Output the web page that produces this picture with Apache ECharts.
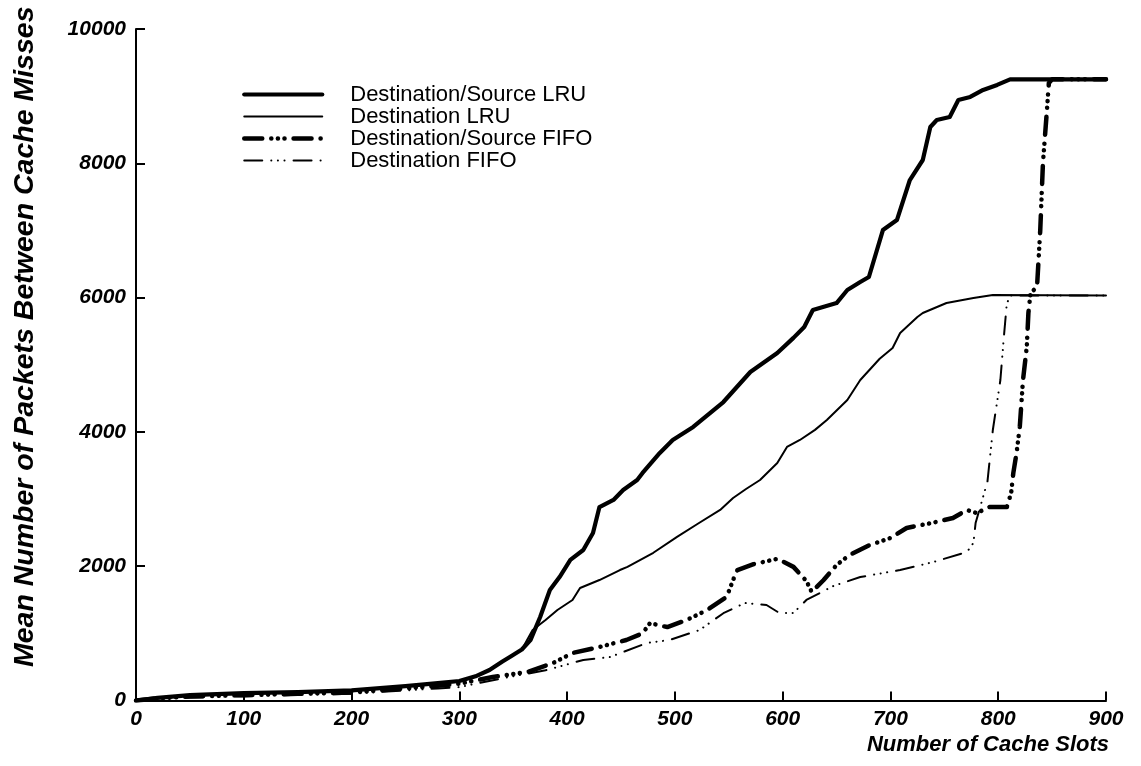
<!DOCTYPE html>
<html>
<head>
<meta charset="utf-8">
<script src="https://cdn.jsdelivr.net/npm/echarts@6/dist/echarts.min.js"></script>
<style>
  html, body { margin: 0; padding: 0; background: #fff; }
  #chart { width: 1141px; height: 766px; }
</style>
</head>
<body>
<div id="chart"></div>
<script>
// Mean packets between cache misses versus cache size, four replacement policies.

const xTicks = [0, 100, 200, 300, 400, 500, 600, 700, 800, 900];
const yTicks = [0, 2000, 4000, 6000, 8000, 10000];

const seriesNames = [
  'Destination/Source LRU',
  'Destination LRU',
  'Destination/Source FIFO',
  'Destination FIFO'
];

// Destination/Source LRU
const dsLruSlots = [0, 20, 50, 100, 150, 200, 250, 280, 300, 315, 328, 340, 348, 358, 366, 375, 384, 393, 403, 415, 424, 430, 443, 452, 465, 470, 486, 498, 517, 545, 570, 595, 610, 620, 628, 650, 660, 672, 680, 693, 706, 718, 730, 737, 743, 755, 763, 774, 786, 799, 811, 900];
const dsLruMean  = [0, 40, 80, 110, 125, 150, 215, 260, 290, 360, 454, 580, 660, 760, 900, 1244, 1645, 1839, 2093, 2241, 2494, 2880, 2986, 3135, 3284, 3388, 3686, 3880, 4074, 4445, 4892, 5175, 5400, 5562, 5815, 5919, 6113, 6232, 6307, 7006, 7155, 7751, 8049, 8541, 8645, 8690, 8943, 8988, 9092, 9167, 9250, 9250];

// Destination LRU
const dLruSlots = [0, 20, 50, 100, 150, 200, 250, 280, 300, 315, 328, 340, 348, 358, 368, 380, 391, 405, 412, 430, 449, 456, 480, 502, 522, 542, 554, 566, 579, 595, 604, 616, 630, 641, 660, 672, 690, 702, 709, 715, 725, 730, 752, 777, 795, 900];
const dLruMean  = [0, 40, 80, 110, 125, 150, 215, 260, 290, 360, 454, 580, 660, 760, 1050, 1200, 1348, 1497, 1675, 1794, 1943, 1990, 2200, 2437, 2640, 2838, 3016, 3150, 3284, 3536, 3776, 3880, 4030, 4177, 4475, 4773, 5090, 5250, 5473, 5562, 5711, 5771, 5920, 5994, 6039, 6030];

// Destination/Source FIFO
const dsFifoSlots = [0, 20, 50, 100, 150, 200, 250, 280, 300, 331, 363, 387, 405, 430, 455, 470, 477, 485, 493, 511, 530, 548, 554, 558, 573, 595, 610, 622, 627, 638, 650, 662, 681, 700, 715, 740, 758, 771, 780, 792, 808, 812, 814, 817, 820, 823, 826.5, 828, 830, 836, 839, 841.5, 845, 847, 850, 900];
const dsFifoMean  = [0, 30, 60, 80, 100, 120, 180, 220, 250, 350, 424, 558, 707, 797, 901, 1000, 1154, 1120, 1094, 1199, 1348, 1541, 1794, 1943, 2030, 2110, 1990, 1780, 1615, 1794, 2018, 2167, 2316, 2420, 2569, 2650, 2718, 2837, 2792, 2882, 2882, 3090, 3388, 3686, 4074, 4773, 5265, 5771, 6068, 6158, 7006, 8004, 8749, 9196, 9250, 9250];

// Destination FIFO
const dFifoSlots = [0, 20, 50, 100, 150, 200, 250, 280, 300, 340, 380, 415, 440, 474, 495, 523, 545, 565, 585, 597, 610, 622, 647, 672, 709, 740, 771, 777, 779, 790, 795, 802, 805, 808, 812, 900];
const dFifoMean  = [0, 25, 45, 65, 85, 100, 150, 180, 200, 330, 450, 603, 648, 856, 901, 1050, 1300, 1452, 1422, 1303, 1303, 1497, 1705, 1839, 1943, 2063, 2212, 2346, 2643, 3260, 4028, 4773, 5369, 5920, 6030, 6030];

const pairs = (xs, ys) => xs.map((x, i) => [x, ys[i]]);

const FONT = "'Liberation Sans', Arial, Helvetica, sans-serif";
const DASH_DOT_DOT = [18, 9, 0.1, 6.5, 0.1, 6.5, 0.1, 9];

// line width and dash for each policy, shared by plot and legend
const styles = [
  { width: 4.2, type: 'solid' },
  { width: 2, type: 'solid' },
  { width: 4.5, type: DASH_DOT_DOT },
  { width: 2, type: DASH_DOT_DOT }
];

const chart = echarts.init(document.getElementById('chart'), null, { renderer: 'canvas' });

const lineSeries = (i, data) => ({
  name: seriesNames[i],
  type: 'line',
  data,
  symbol: 'none',
  smooth: false,
  lineStyle: { color: '#000', width: styles[i].width, type: styles[i].type, cap: 'round', join: 'round' },
  itemStyle: { color: '#000' }
});

const plain = v => String(v);

chart.setOption({
  animation: false,
  backgroundColor: '#fff',
  grid: { left: 136, right: 35, top: 29, bottom: 65.5, containLabel: false, outerBoundsMode: 'none' },
  legend: {
    orient: 'vertical',
    left: 242,
    top: 83.5,
    padding: 0,
    itemWidth: 78,
    itemHeight: 14,
    itemGap: 0,
    selectedMode: false,
    itemStyle: { opacity: 0 },
    data: seriesNames.map((name, i) => ({
      name,
      lineStyle: { color: '#000', width: styles[i].width, type: styles[i].type, cap: 'round' }
    })),
    textStyle: {
      color: '#000',
      fontFamily: FONT,
      fontSize: 22,
      lineHeight: 22,
      padding: [0, 0, 0, 23]
    }
  },
  xAxis: {
    type: 'value',
    min: xTicks[0],
    max: xTicks[xTicks.length - 1],
    interval: 100,
    name: 'Number of Cache Slots',
    nameLocation: 'middle',
    nameGap: 18,
    nameTextStyle: {
      color: '#000', fontFamily: FONT, fontSize: 22, fontWeight: 'bold', fontStyle: 'italic',
      padding: [0, 0, 0, 734]
    },
    axisLine: { lineStyle: { color: '#000', width: 2 } },
    axisTick: { inside: true, length: 9, lineStyle: { color: '#000', width: 2 } },
    axisLabel: {
      color: '#000', fontFamily: FONT, fontSize: 21, fontWeight: 'bold', fontStyle: 'italic', margin: 8,
      formatter: plain
    },
    splitLine: { show: false }
  },
  yAxis: {
    type: 'value',
    min: yTicks[0],
    max: yTicks[yTicks.length - 1],
    interval: 2000,
    name: 'Mean Number of Packets Between Cache Misses',
    nameLocation: 'middle',
    nameRotate: 90,
    nameGap: 96,
    nameTextStyle: {
      color: '#000', fontFamily: FONT, fontSize: 28.5, fontWeight: 'bold', fontStyle: 'italic',
      padding: [0, 0, 0, 56]
    },
    axisLine: { show: true, lineStyle: { color: '#000', width: 2 } },
    axisTick: { show: true, inside: true, length: 9, lineStyle: { color: '#000', width: 2 } },
    axisLabel: {
      color: '#000', fontFamily: FONT, fontSize: 21, fontWeight: 'bold', fontStyle: 'italic', margin: 10,
      formatter: plain
    },
    splitLine: { show: false }
  },
  series: [
    lineSeries(0, pairs(dsLruSlots, dsLruMean)),
    lineSeries(1, pairs(dLruSlots, dLruMean)),
    lineSeries(2, pairs(dsFifoSlots, dsFifoMean)),
    lineSeries(3, pairs(dFifoSlots, dFifoMean))
  ]
});
</script>
</body>
</html>
